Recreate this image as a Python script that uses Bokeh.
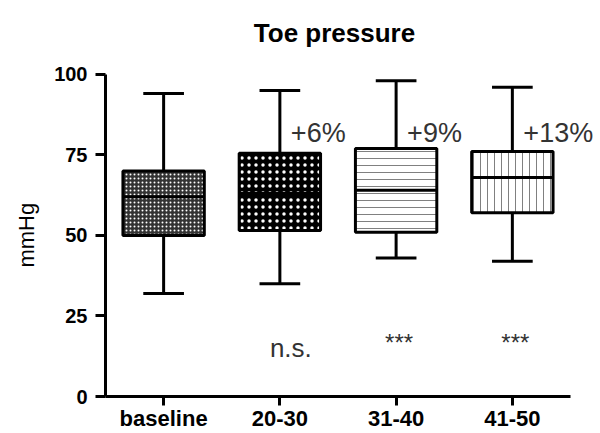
from bokeh.plotting import figure
from bokeh.models import FixedTicker, Range1d, ColumnDataSource, LabelSet, Label
from bokeh.embed import file_html
from bokeh.resources import INLINE
from bokeh.core.properties import value

# ---- data ----
categories = ["baseline", "20-30", "31-40", "41-50"]
whisker_low = [32, 35, 43, 42]
q1 = [50, 51.5, 51, 57]
median = [62, 63, 64, 68]
q3 = [70, 75.5, 77, 76]
whisker_high = [94, 95, 98, 96]
change_labels = ["", "+6%", "+9%", "+13%"]
sig_labels = ["", "n.s.", "***", "***"]
y_ticks = [0, 25, 50, 75, 100]
title_text = "Toe pressure"
y_label = "mmHg"

FONT = "Liberation Sans"

# The frame fills the page to the top and right so no text is clipped;
# axis lines are bounded to the real data span (x: categories, y: 0-100).
p = figure(width=600, height=433, output_backend="svg", toolbar_location=None,
           x_range=Range1d(-0.5, 3.741), y_range=Range1d(0, 122.9),
           min_border_left=105, min_border_right=2, min_border_top=0, min_border_bottom=36)
p.outline_line_color = None
p.xgrid.visible = False
p.ygrid.visible = False
p.background_fill_color = "white"
p.border_fill_color = "white"

xs = list(range(len(categories)))

box_styles = [
    dict(fill_color="#333333", hatch_pattern=".", hatch_color="white", hatch_scale=4, hatch_weight=1),
    dict(fill_color="black", hatch_pattern=".", hatch_color="white", hatch_scale=7, hatch_weight=4.5),
    dict(fill_color="white", hatch_pattern="-", hatch_color="#808080", hatch_scale=7, hatch_weight=1),
    dict(fill_color="white", hatch_pattern="|", hatch_color="#808080", hatch_scale=7, hatch_weight=1),
]

box_w = 0.7
cap_w = 0.35

# whiskers
p.segment(x0=xs, y0=q3, x1=xs, y1=whisker_high, line_color="black", line_width=3)
p.segment(x0=xs, y0=q1, x1=xs, y1=whisker_low, line_color="black", line_width=3)
# caps
p.segment(x0=[x - cap_w / 2 for x in xs], y0=whisker_high, x1=[x + cap_w / 2 for x in xs], y1=whisker_high,
          line_color="black", line_width=3)
p.segment(x0=[x - cap_w / 2 for x in xs], y0=whisker_low, x1=[x + cap_w / 2 for x in xs], y1=whisker_low,
          line_color="black", line_width=3)

# boxes
for i, st in enumerate(box_styles):
    p.vbar(x=[xs[i]], top=[q3[i]], bottom=[q1[i]], width=box_w,
           line_color="black", line_width=3, **st)

# medians
p.segment(x0=[x - box_w / 2 for x in xs], y0=median, x1=[x + box_w / 2 for x in xs], y1=median,
          line_color="black", line_width=3)

# title
p.add_layout(Label(x=1.47, y=112.7, text=title_text, text_font=FONT, text_font_size="26px",
                   text_font_style="bold", text_color="black", text_align="center",
                   text_baseline="alphabetic"))

# annotations
ci = [i for i in xs if change_labels[i]]
src_c = ColumnDataSource(dict(x=ci, y=[79] * len(ci), t=[change_labels[i] for i in ci]))
p.add_layout(LabelSet(x="x", y="y", text="t", source=src_c, x_offset=11,
                      text_font=value(FONT), text_font_size="27px", text_color="#333333",
                      text_align="left", text_baseline="alphabetic"))

ns = [i for i in xs if sig_labels[i] == "n.s."]
src_n = ColumnDataSource(dict(x=ns, y=[12.4] * len(ns), t=[sig_labels[i] for i in ns]))
p.add_layout(LabelSet(x="x", y="y", text="t", source=src_n, x_offset=11,
                      text_font=value(FONT), text_font_size="26px", text_color="#333333",
                      text_align="center", text_baseline="alphabetic"))
st_ = [i for i in xs if sig_labels[i] == "***"]
src_s = ColumnDataSource(dict(x=st_, y=[14.2] * len(st_), t=[sig_labels[i] for i in st_]))
p.add_layout(LabelSet(x="x", y="y", text="t", source=src_s, x_offset=3,
                      text_font=value(FONT), text_font_size="24px", text_color="#333333",
                      text_align="center", text_baseline="alphabetic"))

# axes
for ax in (p.xaxis[0], p.yaxis[0]):
    ax.axis_line_width = 3
    ax.axis_line_color = "black"
    ax.major_tick_line_width = 3
    ax.major_tick_line_color = "black"
    ax.major_tick_in = 0
    ax.minor_tick_line_color = None
    ax.major_label_text_font = FONT
    ax.major_label_text_font_style = "bold"
    ax.major_label_text_color = "black"

p.yaxis.ticker = FixedTicker(ticks=y_ticks)
p.yaxis.bounds = (0, 100)
p.yaxis.major_tick_out = 10
p.yaxis.major_label_text_font_size = "20px"
p.yaxis.major_label_standoff = 8
# the label is centred on the (taller) frame; trailing no-break spaces move
# the visible word down to the middle of the 0-100 axis
p.yaxis.axis_label = y_label + "\u00a0" * 12
p.yaxis.axis_label_text_font = FONT
p.yaxis.axis_label_text_font_size = "22px"
p.yaxis.axis_label_text_font_style = "normal"
p.yaxis.axis_label_text_color = "black"
p.yaxis.axis_label_standoff = 12

p.xaxis.ticker = FixedTicker(ticks=xs)
p.xaxis.bounds = (-0.5, 3.5)
p.xaxis.major_label_overrides = {i: c for i, c in enumerate(categories)}
p.xaxis.major_tick_out = 9
p.xaxis.major_label_text_font_size = "22px"
p.xaxis.major_label_standoff = 0

open("out.html", "w").write(file_html(p, INLINE))
